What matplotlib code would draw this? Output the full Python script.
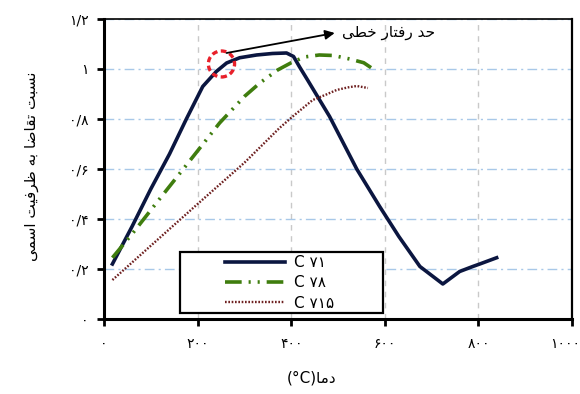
"""
Demand/capacity ratio vs temperature for three C7 columns (Persian labels).
"""

import matplotlib
matplotlib.use("Agg")
import matplotlib.pyplot as plt
from matplotlib.patches import Ellipse, Rectangle
from matplotlib.transforms import ScaledTranslation

plt.rcParams['font.family'] = ['DejaVu Sans']
plt.rcParams['lines.scale_dashes'] = False

# temperature (C) and demand/capacity ratio
c71_temp = [18, 60, 100, 140, 176, 211, 240, 262, 290, 326, 360, 390, 405, 418, 435,
            482, 540, 589, 630, 675, 724, 760, 788, 803, 839]
c71_ratio = [0.22, 0.37, 0.52, 0.66, 0.80, 0.93, 0.99, 1.024, 1.045, 1.056, 1.062, 1.064, 1.05,
             1.008, 0.956, 0.81, 0.60, 0.45, 0.33, 0.21, 0.14, 0.19, 0.21, 0.22, 0.245]

c78_temp = [18, 60, 125, 180, 247, 300, 333, 371, 400, 428, 460, 490, 525, 555, 578]
c78_ratio = [0.245, 0.34, 0.495, 0.625, 0.784, 0.89, 0.944, 0.996, 1.025, 1.048, 1.056,
             1.054, 1.04, 1.025, 0.996]

c715_temp = [18, 100, 200, 300, 375, 407, 446, 475, 497, 520, 540, 564]
c715_ratio = [0.156, 0.293, 0.46, 0.625, 0.764, 0.816, 0.876, 0.898, 0.916, 0.926, 0.932, 0.924]

series_labels = ['C ۷۱', 'C ۷۸', 'C ۷۱۵']
x_ticks = [0, 200, 400, 600, 800, 1000]
y_ticks = [0, 0.2, 0.4, 0.6, 0.8, 1.0, 1.2]

y_label = 'نسبت تقاضا به ظرفیت اسمی'
x_label_word = 'دما'
note_text = 'حد رفتار خطی'

# annotation anchor points (data units)
circle_center = (251, 1.02)
arrow_start = (262, 1.064)
arrow_end = (493, 1.144)

# Arabic presentation forms: isolated, final, initial, medial
FORMS = {
    'ا': (0xFE8D, 0xFE8E, None, None),
    'د': (0xFEA9, 0xFEAA, None, None),
    'ر': (0xFEAD, 0xFEAE, None, None),
    'ب': (0xFE8F, 0xFE90, 0xFE91, 0xFE92),
    'ت': (0xFE95, 0xFE96, 0xFE97, 0xFE98),
    'ح': (0xFEA1, 0xFEA2, 0xFEA3, 0xFEA4),
    'خ': (0xFEA5, 0xFEA6, 0xFEA7, 0xFEA8),
    'س': (0xFEB1, 0xFEB2, 0xFEB3, 0xFEB4),
    'ض': (0xFEBD, 0xFEBE, 0xFEBF, 0xFEC0),
    'ط': (0xFEC1, 0xFEC2, 0xFEC3, 0xFEC4),
    'ظ': (0xFEC5, 0xFEC6, 0xFEC7, 0xFEC8),
    'ف': (0xFED1, 0xFED2, 0xFED3, 0xFED4),
    'ق': (0xFED5, 0xFED6, 0xFED7, 0xFED8),
    'م': (0xFEE1, 0xFEE2, 0xFEE3, 0xFEE4),
    'ن': (0xFEE5, 0xFEE6, 0xFEE7, 0xFEE8),
    'ه': (0xFEE9, 0xFEEA, 0xFEEB, 0xFEEC),
    'ی': (0xFBFC, 0xFBFD, 0xFBFE, 0xFBFF),
}


def shape_fa(text):
    """Join Persian letters and put them in visual (left-to-right) order."""
    out = []
    for i, ch in enumerate(text):
        if ch not in FORMS:
            out.append(ch)
            continue
        forms = FORMS[ch]
        prev = text[i - 1] if i > 0 else None
        nxt = text[i + 1] if i + 1 < len(text) else None
        join_prev = prev in FORMS and FORMS[prev][2] is not None
        join_next = forms[2] is not None and nxt in FORMS
        if join_prev and join_next:
            code = forms[3]
        elif join_prev:
            code = forms[1]
        elif join_next:
            code = forms[2]
        else:
            code = forms[0]
        out.append(chr(code))
    return ''.join(reversed(out))


def to_fa_digits(value):
    s = f'{value:g}'
    return s.translate(str.maketrans('0123456789.', '۰۱۲۳۴۵۶۷۸۹/'))


fig = plt.figure(figsize=(5.8, 3.94), dpi=100)
ax = fig.add_axes([0.1793, 0.1904, 0.8069, 0.7614])

navy = '#0b1640'
green = '#3f7d0e'
maroon = '#6e2020'

l1, = ax.plot(c71_temp, c71_ratio, color=navy, lw=2.6, solid_joinstyle='round', zorder=3)
l2, = ax.plot(c78_temp, c78_ratio, color=green, lw=2.6, zorder=3,
              linestyle=(0, (12, 5, 1.5, 5, 1.5, 5)))
l3, = ax.plot(c715_temp, c715_ratio, color=maroon, lw=1.7, zorder=3,
              linestyle=(0, (1.2, 1.2)))

ax.set_xlim(0, 1000)
ax.set_ylim(0, 1.2)
ax.set_xticks(x_ticks)
ax.set_xticklabels([to_fa_digits(v) for v in x_ticks])
ax.set_yticks(y_ticks)
ax.set_yticklabels([to_fa_digits(v) for v in y_ticks])
ax.tick_params(direction='out', length=5, width=2, labelsize=10, pad=8)
ax.tick_params(axis='y', pad=6)

# last x label sits a bit left of its tick, as in the source figure
last = ax.get_xticklabels()[-1]
last.set_horizontalalignment('right')
last.set_transform(last.get_transform() + ScaledTranslation(6 / 72, 0, fig.dpi_scale_trans))

ax.xaxis.grid(True, color='#c9c9c9', lw=1, linestyle=(0, (4, 4)))
ax.yaxis.grid(True, color='#a8c8e8', lw=1, linestyle=(0, (7, 3, 1.5, 3)))
ax.set_axisbelow(True)

ax.spines['left'].set_linewidth(2.2)
ax.spines['bottom'].set_linewidth(2.2)
ax.spines['right'].set_linewidth(1.6)
ax.spines['top'].set_linewidth(1.2)

# legend with its own box, content centred
ax.add_patch(Rectangle((0.1624, 0.02), 0.4336, 0.203, transform=ax.transAxes,
                       facecolor='white', edgecolor='black', lw=1.6, zorder=4))
leg = ax.legend([l1, l2, l3], series_labels, loc='upper left',
                bbox_to_anchor=(0.2585, 0.213), frameon=False, fontsize=11,
                handlelength=3.9, handletextpad=0.6, labelspacing=0.35,
                borderpad=0, borderaxespad=0)
leg.set_zorder(5)

# linear-limit marker and note
ax.add_patch(Ellipse(circle_center, 56, 0.104, fill=False, edgecolor='#e8202a',
                     lw=2.4, linestyle=(0, (4, 2.5)), zorder=6))
ax.annotate('', xy=arrow_end, xytext=arrow_start,
            arrowprops=dict(arrowstyle='-|>', color='black', lw=1.3,
                            mutation_scale=14, shrinkA=0, shrinkB=0), zorder=6)
ax.text(arrow_end[0] + 16, arrow_end[1], shape_fa(note_text), fontsize=11,
        ha='left', va='center')

fig.text(32 / 580, 1 - 166 / 394, shape_fa(y_label), rotation=90, fontsize=11,
         ha='center', va='center')
fig.text(312 / 580, 1 - 378 / 394, '(°C)' + shape_fa(x_label_word), fontsize=11,
         ha='center', va='center')

fig.savefig('out.png', dpi=100)
